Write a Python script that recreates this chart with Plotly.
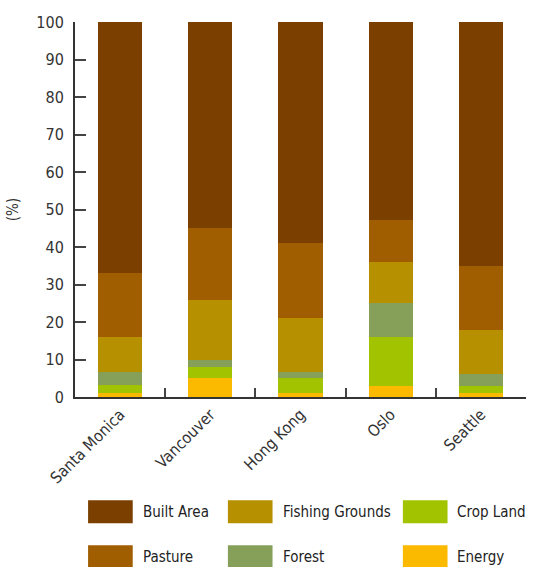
import plotly.graph_objects as go

cities = ["Santa Monica", "Vancouver", "Hong Kong", "Oslo", "Seattle"]

# stacked from bottom to top
energy  = [1.0, 5.0, 1.0, 2.9, 1.0]
crop    = [2.3, 2.9, 4.0, 13.1, 1.9]
forest  = [3.3, 2.1, 1.8, 9.0, 3.2]
fishing = [9.4, 16.0, 14.2, 11.0, 11.9]
pasture = [17.0, 19.0, 20.0, 11.3, 17.0]
built   = [67.0, 55.0, 59.0, 53.0, 65.0]

series_names = ["Energy", "Crop Land", "Forest", "Fishing Grounds", "Pasture", "Built Area"]
series_values = [energy, crop, forest, fishing, pasture, built]
series_colors = ["#FBB900", "#A2C300", "#86A05A", "#B79000", "#A05E00", "#7B3F00"]

y_ticks = list(range(0, 101, 10))

FONT = "DejaVu Sans Condensed, Liberation Sans Narrow, sans-serif"

fig = go.Figure()
for name, vals, col in zip(series_names, series_values, series_colors):
    fig.add_trace(go.Bar(x=cities, y=vals, name=name, marker=dict(color=col, line=dict(width=0)),
                         showlegend=False))

fig.update_layout(
    barmode="stack",
    bargap=0.51,
    width=544, height=567,
    margin=dict(l=75, r=18, t=22, b=170),
    paper_bgcolor="white", plot_bgcolor="white",
    font=dict(family=FONT, size=15, color="#333"),
    xaxis=dict(range=[-0.5, 4.5], showline=True, linecolor="#333", linewidth=2,
               ticks="inside", ticklen=9, tickwidth=1.5, tickcolor="#444",
               tickson="boundaries", tickangle=-45, showgrid=False, automargin=False,
               tickfont=dict(size=16, color="#333")),
    yaxis=dict(range=[0, 100], tickvals=y_ticks, showline=True, linecolor="#333", linewidth=2,
               ticks="inside", ticklen=11, tickwidth=1.5, tickcolor="#444", showgrid=False,
               zeroline=False, ticklabelstandoff=6, automargin=False,
               title=dict(text="(%)", font=dict(size=15, color="#333"), standoff=14),
               tickfont=dict(size=16, color="#333")),
)

# legend drawn in paper coordinates: 3 columns x 2 rows, column-major (top of stack first)
legend_order = list(reversed(range(len(series_names))))
col_x = [0.029, 0.339, 0.727]
text_x = [0.146, 0.457, 0.843]
row_y = [-0.306, -0.426]
sw_w = 0.099
sw_h = 0.0614
for k, idx in enumerate(legend_order):
    c, r = k // 2, k % 2
    fig.add_shape(type="rect", xref="paper", yref="paper",
                  x0=col_x[c], x1=col_x[c] + sw_w, y0=row_y[r] - sw_h / 2, y1=row_y[r] + sw_h / 2,
                  fillcolor=series_colors[idx], line=dict(width=0))
    fig.add_annotation(xref="paper", yref="paper", x=text_x[c], y=row_y[r],
                       text=series_names[idx], showarrow=False, xanchor="left", yanchor="middle",
                       font=dict(family=FONT, size=15, color="#222"))

fig.write_html("out.html")
